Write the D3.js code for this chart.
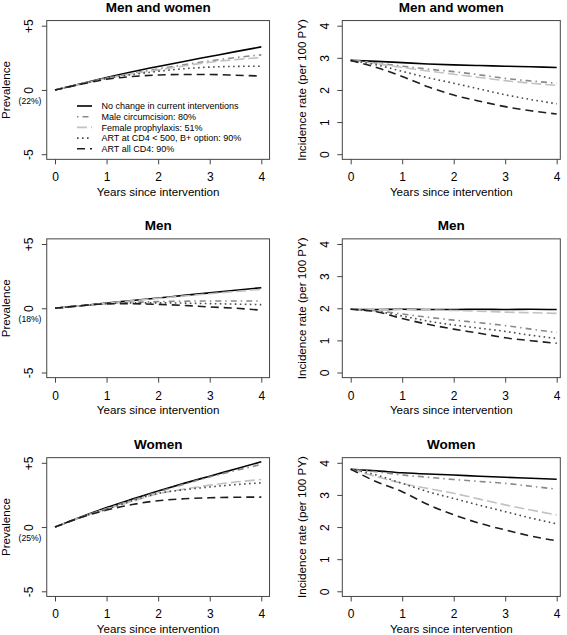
<!DOCTYPE html>
<html><head><meta charset="utf-8">
<script src="https://cdn.jsdelivr.net/npm/d3@7"></script>
<style>
body{margin:0;background:#fff}
svg{display:block}
text{font-family:"Liberation Sans",Arial,Helvetica,sans-serif;fill:#000}
</style>
</head><body>
<svg id="chart" width="567" height="635"></svg>
<script>
// ---------- data ----------
const years = [0, 0.5, 1, 1.5, 2, 2.5, 3, 3.5, 4];
const xTicks = [0, 1, 2, 3, 4];
const prevTicks = [-5, 0, 5];
const prevTickLabels = ["-5", "0", "+5"];
const incTicks = [0, 1, 2, 3, 4];
const incTickLabels = ["0", "1", "2", "3", "4"];
const seriesLabels = [
  "No change in current interventions",
  "Male circumcision: 80%",
  "Female prophylaxis: 51%",
  "ART at CD4 < 500, B+ option: 90%",
  "ART all CD4: 90%"
];
const panelTitles = ["Men and women", "Men", "Women"];
const baselinePrevalence = ["(22%)", "(18%)", "(25%)"];
const xLabel = "Years since intervention";
const prevLabel = "Prevalence";
const incLabel = "Incidence rate (per 100 PY)";

// change in prevalence (percentage points), series in legend order
const prevBoth = [
  [0, 0.48, 0.97, 1.42, 1.83, 2.22, 2.60, 2.98, 3.35],
  [0, 0.47, 0.92, 1.30, 1.64, 1.96, 2.26, 2.52, 2.73],
  [0, 0.47, 0.90, 1.26, 1.56, 1.87, 2.16, 2.36, 2.52],
  [0, 0.46, 0.90, 1.20, 1.45, 1.65, 1.78, 1.83, 1.85],
  [0, 0.44, 0.83, 1.05, 1.16, 1.20, 1.20, 1.15, 1.08]
];
const incBoth = [
  [2.92, 2.89, 2.85, 2.81, 2.78, 2.76, 2.74, 2.72, 2.70],
  [2.92, 2.84, 2.74, 2.65, 2.57, 2.47, 2.36, 2.28, 2.21],
  [2.92, 2.82, 2.70, 2.59, 2.49, 2.39, 2.29, 2.21, 2.14],
  [2.92, 2.78, 2.58, 2.38, 2.21, 2.03, 1.85, 1.70, 1.57],
  [2.92, 2.70, 2.42, 2.10, 1.84, 1.65, 1.48, 1.35, 1.25]
];
const prevMen = [
  [0, 0.20, 0.40, 0.60, 0.80, 1.00, 1.20, 1.40, 1.60],
  [0, 0.20, 0.37, 0.45, 0.52, 0.55, 0.57, 0.57, 0.57],
  [0, 0.20, 0.39, 0.58, 0.77, 0.95, 1.13, 1.30, 1.47],
  [0, 0.20, 0.36, 0.42, 0.42, 0.40, 0.36, 0.32, 0.28],
  [0, 0.20, 0.34, 0.35, 0.30, 0.22, 0.10, 0.00, -0.15]
];
const incMen = [
  [1.97, 1.96, 1.97, 1.96, 1.96, 1.97, 1.96, 1.97, 1.96],
  [1.97, 1.92, 1.82, 1.72, 1.63, 1.55, 1.46, 1.35, 1.24],
  [1.97, 1.96, 1.96, 1.95, 1.93, 1.91, 1.88, 1.86, 1.84],
  [1.97, 1.90, 1.76, 1.60, 1.48, 1.38, 1.28, 1.16, 1.06],
  [1.97, 1.89, 1.68, 1.50, 1.35, 1.22, 1.08, 0.99, 0.91]
];
const prevWomen = [
  [0, 0.78, 1.52, 2.18, 2.81, 3.40, 3.96, 4.52, 5.08],
  [0, 0.76, 1.45, 2.10, 2.73, 3.33, 3.90, 4.40, 4.87],
  [0, 0.75, 1.40, 2.00, 2.60, 2.95, 3.26, 3.50, 3.70],
  [0, 0.75, 1.38, 2.05, 2.62, 2.90, 3.12, 3.30, 3.44],
  [0, 0.74, 1.32, 1.75, 2.05, 2.20, 2.28, 2.32, 2.33]
];
const incWomen = [
  [3.80, 3.75, 3.69, 3.65, 3.62, 3.58, 3.55, 3.52, 3.49],
  [3.80, 3.72, 3.62, 3.55, 3.48, 3.42, 3.36, 3.27, 3.18],
  [3.80, 3.57, 3.36, 3.20, 3.05, 2.87, 2.69, 2.53, 2.38],
  [3.80, 3.62, 3.36, 3.10, 2.89, 2.68, 2.48, 2.28, 2.10],
  [3.80, 3.41, 3.10, 2.70, 2.38, 2.12, 1.91, 1.72, 1.57]
];

// ---------- styles / layout ----------
const seriesColors = ["#000000", "#8a8a8a", "#c2c2c2", "#4a4a4a", "#1e1e1e"];
const seriesDash = [null, "1.5,4,6,4", "10,4", "1.6,3.4", "8,5"];
const lineWidth = 1.6;
const rowTopTick = [25.7, 244, 462.8];
const tickSpan = 128.5;
const cols = [
  { x0: 55, x4: 261.3, boxL: 46.75, boxR: 269.55 },
  { x0: 350.7, x4: 556.7, boxL: 342.3, boxR: 560.3 }
];
const boxColor = "#444";

const svg = d3.select("#chart");
const prevData = [prevBoth, prevMen, prevWomen];
const incData = [incBoth, incMen, incWomen];

function drawPanel(row, col) {
  const c = cols[col];
  const top = rowTopTick[row], bot = top + tickSpan;
  const pad = tickSpan * 0.04;
  const boxT = top - pad, boxB = bot + pad;
  const isPrev = col === 0;
  const x = d3.scaleLinear().domain([0, 4]).range([c.x0, c.x4]);
  const y = isPrev
    ? d3.scaleLinear().domain([-5, 5]).range([bot, top])
    : d3.scaleLinear().domain([0, 4]).range([bot, top]);
  const g = svg.append("g");

  // title
  g.append("text").attr("x", (c.boxL + c.boxR) / 2).attr("y", boxT - 8.6)
    .attr("text-anchor", "middle").style("font-weight", "bold").style("font-size", "13.5px")
    .text(panelTitles[row]);

  // lines
  const series = isPrev ? prevData[row] : incData[row];
  const line = d3.line().x((d, i) => x(years[i])).y(d => y(d)).curve(d3.curveMonotoneX);
  series.forEach((vals, si) => {
    g.append("path").datum(vals).attr("d", line)
      .attr("fill", "none").attr("stroke", seriesColors[si])
      .attr("stroke-width", lineWidth)
      .attr("stroke-dasharray", seriesDash[si])
      .attr("stroke-linecap", "butt");
  });

  // box
  g.append("rect").attr("x", c.boxL).attr("y", boxT)
    .attr("width", c.boxR - c.boxL).attr("height", boxB - boxT)
    .attr("fill", "none").attr("stroke", boxColor).attr("stroke-width", 1);

  // x axis
  const xa = g.append("g").attr("transform", `translate(0,${boxB})`)
    .call(d3.axisBottom(x).tickValues(xTicks).tickSize(5).tickPadding(9).tickFormat(d3.format("d")));
  xa.select(".domain").remove();
  xa.selectAll("line").attr("stroke", boxColor);
  xa.selectAll("text").attr("y", 22).attr("dy", null)
    .style("font-size", "12px").attr("fill", "#000");

  // y axis
  const ticks = isPrev ? prevTicks : incTicks;
  const labels = isPrev ? prevTickLabels : incTickLabels;
  const ya = g.append("g").attr("transform", `translate(${c.boxL},0)`)
    .call(d3.axisLeft(y).tickValues(ticks).tickSize(5).tickFormat((d, i) => labels[i]));
  ya.select(".domain").remove();
  ya.selectAll("line").attr("stroke", boxColor);
  ya.selectAll("text").attr("x", null).attr("dy", null)
    .attr("text-anchor", "middle").attr("transform", "translate(-13.6,0) rotate(-90)")
    .style("font-size", "12px").attr("fill", "#000");

  // axis titles
  g.append("text").attr("x", (c.boxL + c.boxR) / 2).attr("y", boxB + 36.7)
    .attr("text-anchor", "middle").style("font-size", "11.6px").text(xLabel);
  g.append("text")
    .attr("transform", `translate(${c.boxL - 36.4},${(boxT + boxB) / 2}) rotate(-90)`)
    .attr("text-anchor", "middle").style("font-size", "11.6px")
    .text(isPrev ? prevLabel : incLabel);

  if (isPrev) {
    g.append("text").attr("x", 30).attr("y", y(0) + 14)
      .attr("text-anchor", "middle").style("font-size", "8.6px").text(baselinePrevalence[row]);
  }

  // legend
  if (row === 0 && col === 0) {
    seriesLabels.forEach((lab, si) => {
      const cy = 106 + si * 10.7;
      g.append("line").attr("x1", 77).attr("x2", 92).attr("y1", cy).attr("y2", cy)
        .attr("stroke", seriesColors[si]).attr("stroke-width", lineWidth)
        .attr("stroke-dasharray", seriesDash[si]);
      g.append("text").attr("x", 101.5).attr("y", cy + 3.2)
        .style("font-size", "9px").text(lab);
    });
  }
}

for (let r = 0; r < 3; r++) for (let c = 0; c < 2; c++) drawPanel(r, c);
</script>
</body></html>
